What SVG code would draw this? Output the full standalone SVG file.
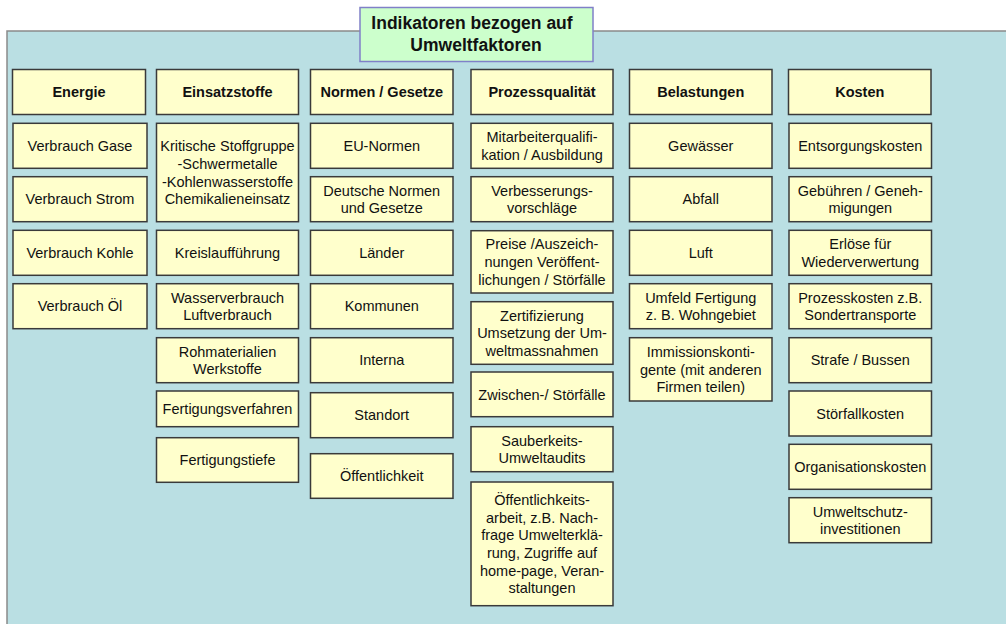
<svg xmlns="http://www.w3.org/2000/svg" width="1006" height="624" viewBox="0 0 1006 624">
<style>
.bx{fill:#FFFFCC;stroke:#3a3a3a;stroke-width:1.5}
.t{font-family:"Liberation Sans",Arial,sans-serif;font-size:14.5px;text-anchor:middle;fill:#111}
.h{font-weight:bold}
.tt{font-family:"Liberation Sans",Arial,sans-serif;font-size:17.5px;font-weight:bold;text-anchor:middle;fill:#111}
</style>
<rect width="1006" height="624" fill="#ffffff"/>
<rect id="panel" x="7" y="31" width="1010" height="610" fill="#BADFE3" stroke="#8a8a8a" stroke-width="1.5"/>
<g id="title">
<rect x="360" y="7.5" width="233" height="54" fill="#CCFFCC" stroke="#8080C8" stroke-width="1.5"/>
<text class="tt"><tspan x="472" y="28.5">Indikatoren bezogen auf</tspan><tspan x="476" y="50.5">Umweltfaktoren</tspan></text>
</g>
<!-- headers -->
<g id="h-energie"><rect class="bx" x="12.5" y="69.5" width="133" height="45"/><text class="t h" x="79" y="97.2">Energie</text></g>
<g id="h-einsatz"><rect class="bx" x="156.5" y="69.5" width="142" height="45"/><text class="t h" x="227.5" y="97.2">Einsatzstoffe</text></g>
<g id="h-normen"><rect class="bx" x="310.5" y="69.5" width="142.5" height="45"/><text class="t h" x="381.75" y="97.2">Normen / Gesetze</text></g>
<g id="h-prozess"><rect class="bx" x="471" y="69.5" width="142" height="45"/><text class="t h" x="542" y="97.2">Prozessqualität</text></g>
<g id="h-belast"><rect class="bx" x="629.5" y="69.5" width="142.5" height="45"/><text class="t h" x="700.75" y="97.2">Belastungen</text></g>
<g id="h-kosten"><rect class="bx" x="788.5" y="69.5" width="142.5" height="45"/><text class="t h" x="859.75" y="97.2">Kosten</text></g>
<!-- column 1 -->
<g id="c1-1"><rect class="bx" x="13" y="123.3" width="134" height="45"/><text class="t" x="80" y="151">Verbrauch Gase</text></g>
<g id="c1-2"><rect class="bx" x="13" y="176.7" width="134" height="45"/><text class="t" x="80" y="204.4">Verbrauch Strom</text></g>
<g id="c1-3"><rect class="bx" x="13" y="230.3" width="134" height="45"/><text class="t" x="80" y="258">Verbrauch Kohle</text></g>
<g id="c1-4"><rect class="bx" x="13" y="283.7" width="134" height="45"/><text class="t" x="80" y="311.4">Verbrauch Öl</text></g>
<!-- column 2 -->
<g id="c2-1"><rect class="bx" x="156.5" y="123.3" width="142" height="98.4"/><text class="t"><tspan x="227.5" y="151.15">Kritische Stoffgruppe</tspan><tspan x="227.5" y="168.85">-Schwermetalle</tspan><tspan x="227.5" y="186.55">-Kohlenwasserstoffe</tspan><tspan x="227.5" y="204.25">Chemikalieneinsatz</tspan></text></g>
<g id="c2-2"><rect class="bx" x="156.5" y="230.3" width="142" height="45"/><text class="t" x="227.5" y="258">Kreislaufführung</text></g>
<g id="c2-3"><rect class="bx" x="156.5" y="283.7" width="142" height="45"/><text class="t"><tspan x="227.5" y="302.55">Wasserverbrauch</tspan><tspan x="227.5" y="320.25">Luftverbrauch</tspan></text></g>
<g id="c2-4"><rect class="bx" x="156.5" y="337.7" width="142" height="45"/><text class="t"><tspan x="227.5" y="356.55">Rohmaterialien</tspan><tspan x="227.5" y="374.25">Werkstoffe</tspan></text></g>
<g id="c2-5"><rect class="bx" x="156.5" y="391" width="142" height="35.7"/><text class="t" x="227.5" y="414">Fertigungsverfahren</text></g>
<g id="c2-6"><rect class="bx" x="156.5" y="437.7" width="142" height="44.6"/><text class="t" x="227.5" y="465.2">Fertigungstiefe</text></g>
<!-- column 3 -->
<g id="c3-1"><rect class="bx" x="310.5" y="123.3" width="142.5" height="45"/><text class="t" x="381.75" y="151">EU-Normen</text></g>
<g id="c3-2"><rect class="bx" x="310.5" y="176.7" width="142.5" height="45"/><text class="t"><tspan x="381.75" y="195.55">Deutsche Normen</tspan><tspan x="381.75" y="213.25">und Gesetze</tspan></text></g>
<g id="c3-3"><rect class="bx" x="310.5" y="230.3" width="142.5" height="45"/><text class="t" x="381.75" y="258">Länder</text></g>
<g id="c3-4"><rect class="bx" x="310.5" y="283.7" width="142.5" height="45"/><text class="t" x="381.75" y="311.4">Kommunen</text></g>
<g id="c3-5"><rect class="bx" x="310.5" y="337.7" width="142.5" height="45"/><text class="t" x="381.75" y="365.4">Interna</text></g>
<g id="c3-6"><rect class="bx" x="310.5" y="392.7" width="142.5" height="45"/><text class="t" x="381.75" y="420.4">Standort</text></g>
<g id="c3-7"><rect class="bx" x="310.5" y="453.7" width="142.5" height="44.6"/><text class="t" x="381.75" y="481.2">Öffentlichkeit</text></g>
<!-- column 4 -->
<g id="c4-1"><rect class="bx" x="471" y="123.3" width="142" height="45"/><text class="t"><tspan x="542" y="142.15">Mitarbeiterqualifi-</tspan><tspan x="542" y="159.85">kation / Ausbildung</tspan></text></g>
<g id="c4-2"><rect class="bx" x="471" y="176.7" width="142" height="45"/><text class="t"><tspan x="542" y="195.55">Verbesserungs-</tspan><tspan x="542" y="213.25">vorschläge</tspan></text></g>
<g id="c4-3"><rect class="bx" x="471" y="230.7" width="142" height="62.3"/><text class="t"><tspan x="542" y="249.35">Preise /Auszeich-</tspan><tspan x="542" y="267.05">nungen Veröffent-</tspan><tspan x="542" y="284.75">lichungen / Störfälle</tspan></text></g>
<g id="c4-4"><rect class="bx" x="471" y="301.7" width="142" height="62.6"/><text class="t"><tspan x="542" y="320.5">Zertifizierung</tspan><tspan x="542" y="338.2">Umsetzung der Um-</tspan><tspan x="542" y="355.9">weltmassnahmen</tspan></text></g>
<g id="c4-5"><rect class="bx" x="471" y="372" width="142" height="44.7"/><text class="t" x="542" y="399.55">Zwischen-/ Störfälle</text></g>
<g id="c4-6"><rect class="bx" x="471" y="426.7" width="142" height="45"/><text class="t"><tspan x="542" y="445.55">Sauberkeits-</tspan><tspan x="542" y="463.25">Umweltaudits</tspan></text></g>
<g id="c4-7"><rect class="bx" x="471" y="482" width="142" height="123.7"/><text class="t"><tspan x="542" y="504.8">Öffentlichkeits-</tspan><tspan x="542" y="522.5">arbeit, z.B. Nach-</tspan><tspan x="542" y="540.2">frage Umwelterklä-</tspan><tspan x="542" y="557.9">rung, Zugriffe auf</tspan><tspan x="542" y="575.6">home-page, Veran-</tspan><tspan x="542" y="593.3">staltungen</tspan></text></g>
<!-- column 5 -->
<g id="c5-1"><rect class="bx" x="629.5" y="123.3" width="142.5" height="45"/><text class="t" x="700.75" y="151">Gewässer</text></g>
<g id="c5-2"><rect class="bx" x="629.5" y="176.7" width="142.5" height="45"/><text class="t" x="700.75" y="204.4">Abfall</text></g>
<g id="c5-3"><rect class="bx" x="629.5" y="230.3" width="142.5" height="45"/><text class="t" x="700.75" y="258">Luft</text></g>
<g id="c5-4"><rect class="bx" x="629.5" y="283.7" width="142.5" height="45"/><text class="t"><tspan x="700.75" y="302.55">Umfeld Fertigung</tspan><tspan x="700.75" y="320.25">z. B. Wohngebiet</tspan></text></g>
<g id="c5-5"><rect class="bx" x="629.5" y="337.7" width="142.5" height="63.3"/><text class="t"><tspan x="700.75" y="356.85">Immissionskonti-</tspan><tspan x="700.75" y="374.55">gente (mit anderen</tspan><tspan x="700.75" y="392.25">Firmen teilen)</tspan></text></g>
<!-- column 6 -->
<g id="c6-1"><rect class="bx" x="789" y="123.3" width="142.5" height="45"/><text class="t" x="860.25" y="151">Entsorgungskosten</text></g>
<g id="c6-2"><rect class="bx" x="789" y="176.7" width="142.5" height="45"/><text class="t"><tspan x="860.25" y="195.55">Gebühren / Geneh-</tspan><tspan x="860.25" y="213.25">migungen</tspan></text></g>
<g id="c6-3"><rect class="bx" x="789" y="230.3" width="142.5" height="45"/><text class="t"><tspan x="860.25" y="249.15">Erlöse für</tspan><tspan x="860.25" y="266.85">Wiederverwertung</tspan></text></g>
<g id="c6-4"><rect class="bx" x="789" y="283.7" width="142.5" height="45"/><text class="t"><tspan x="860.25" y="302.55">Prozesskosten z.B.</tspan><tspan x="860.25" y="320.25">Sondertransporte</tspan></text></g>
<g id="c6-5"><rect class="bx" x="789" y="337.7" width="142.5" height="45"/><text class="t" x="860.25" y="365.4">Strafe / Bussen</text></g>
<g id="c6-6"><rect class="bx" x="789" y="391" width="142.5" height="45"/><text class="t" x="860.25" y="418.7">Störfallkosten</text></g>
<g id="c6-7"><rect class="bx" x="789" y="444.3" width="142.5" height="45"/><text class="t" x="860.25" y="472">Organisationskosten</text></g>
<g id="c6-8"><rect class="bx" x="789" y="497.7" width="142.5" height="45"/><text class="t"><tspan x="860.25" y="516.55">Umweltschutz-</tspan><tspan x="860.25" y="534.25">investitionen</tspan></text></g>
</svg>
